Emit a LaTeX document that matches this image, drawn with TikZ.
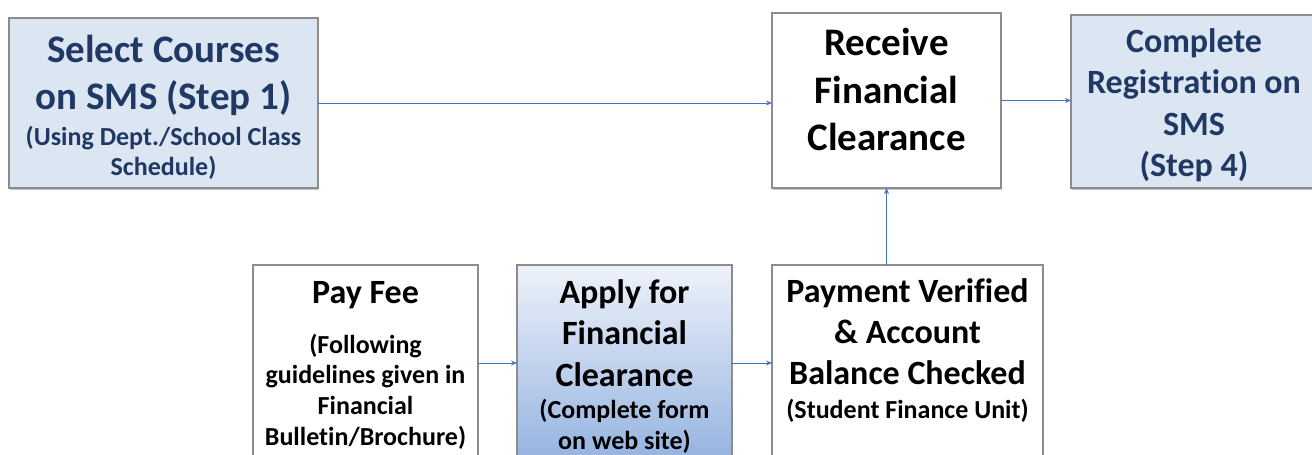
\documentclass[tikz,border=0pt]{standalone}
\usepackage{fontspec}
\setmainfont{Carlito}[Ligatures=NoCommon]
\usetikzlibrary{arrows.meta,shadows}
\definecolor{navy}{HTML}{1F3864}
\definecolor{lightblue}{HTML}{DCE6F2}
\definecolor{boxgray}{HTML}{8C8C8C}
\definecolor{arrowblue}{HTML}{4472C4}
\definecolor{gradtop}{HTML}{EEF2FA}
\definecolor{gradbot}{HTML}{95B3E0}
\newcommand{\mlstack}[1]{\begin{tabular}[t]{@{}c@{}}#1\end{tabular}}
\tikzset{
  box/.style={draw=boxgray, line width=1.5pt, inner sep=0pt, outer sep=0pt,
    drop shadow={shadow xshift=1pt, shadow yshift=-1.5pt, fill=black!45, opacity=0.5}},
  txt/.style={anchor=base, inner sep=0pt, outer sep=0pt},
  arr/.style={draw=arrowblue, line width=1pt, -{Stealth[length=6pt,width=5pt]}},
}
\begin{document}
\begin{tikzpicture}[x=1pt,y=-1pt]
\clip (0,0) rectangle (1312,455);
\fill[white] (0,0) rectangle (1312,455);
% boxes
\node[box, fill=lightblue, minimum width=309pt, minimum height=170pt] (sel) at (163.5,103) {};
\node[box, fill=white, minimum width=229pt, minimum height=175pt] (rec) at (886.5,100.5) {};
\node[box, fill=lightblue, minimum width=251pt, minimum height=173pt] (comp) at (1196.5,101.5) {};
\node[box, fill=white, minimum width=225pt, minimum height=196pt] (pay) at (365.5,363) {};
\node[box, top color=gradtop, bottom color=gradbot, minimum width=215pt, minimum height=196pt] (app) at (624.5,363) {};
\node[box, fill=white, minimum width=271pt, minimum height=196pt] (pmt) at (907.5,363) {};
% texts
\node[txt, text=navy, font=\bfseries\fontsize{39}{47}\selectfont] (selT) at (163.5,62) {\mlstack{Select Courses\\on SMS (Step 1)}};
\node[txt, text=navy, font=\bfseries\fontsize{26}{30.5}\selectfont] (selS) at (163.5,145) {\mlstack{(Using Dept./School Class\\Schedule)}};
\node[txt, font=\bfseries\fontsize{39}{48}\selectfont] (recT) at (886.5,55) {\mlstack{Receive\\Financial\\Clearance}};
\node[txt, text=navy, font=\bfseries\fontsize{34}{41.5}\selectfont] (compT) at (1194,52) {\mlstack{Complete\\Registration on\\SMS\\(Step 4)}};
\node[txt, font=\bfseries\fontsize{34}{41}\selectfont] (payT) at (365.5,303) {Pay Fee};
\node[txt, font=\bfseries\fontsize{26}{30.8}\selectfont] (payS) at (365.5,353) {\mlstack{(Following\\guidelines given in\\Financial\\Bulletin/Brochure)}};
\node[txt, font=\bfseries\fontsize{34}{41.5}\selectfont] (appT) at (624.5,303) {\mlstack{Apply for\\Financial\\Clearance}};
\node[txt, font=\bfseries\fontsize{26}{31}\selectfont] (appS) at (624.5,418) {\mlstack{(Complete form\\on web site)}};
\node[txt, font=\bfseries\fontsize{34}{41}\selectfont] (pmtT) at (907.5,302) {\mlstack{Payment Verified\\\& Account\\Balance Checked}};
\node[txt, font=\bfseries\fontsize{26}{30}\selectfont] (pmtS) at (907.5,418) {(Student Finance Unit)};
% connectors
\draw[arr] (sel.east) -- (sel.east -| rec.west);
\draw[arr] (rec.east) -- (rec.east -| comp.west);
\draw[arr] (pmt.north -| rec.south) -- (rec.south);
\draw[arr] (pay.east) -- (app.west);
\draw[arr] (app.east) -- (pmt.west);
\end{tikzpicture}
\end{document}
